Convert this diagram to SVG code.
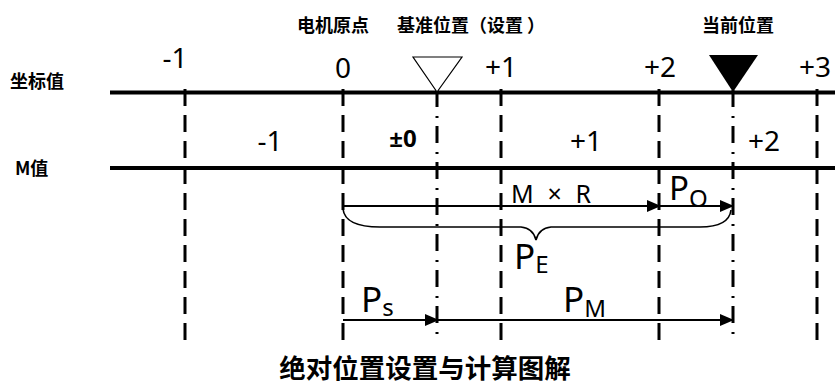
<svg xmlns="http://www.w3.org/2000/svg" width="835" height="385" viewBox="0 0 835 385">
<style>
.axis{stroke:#000;stroke-width:4;fill:none}
.dash{stroke:#000;stroke-width:3;stroke-dasharray:17 9;fill:none}
.dotdash{stroke:#000;stroke-width:3;stroke-dasharray:17 9 2 8;fill:none}
.arr{stroke:#000;stroke-width:2;fill:none}
.brace{stroke:#000;stroke-width:1.6;fill:none}
.num{font-family:"Noto Sans","Open Sans","DejaVu Sans",sans-serif;font-size:28px;fill:#000}
.bold0{font-family:"Noto Sans","Open Sans",sans-serif;font-weight:700;font-size:24px;fill:#000}
.mr{font-family:"Noto Sans","Open Sans",sans-serif;font-size:25px;fill:#000}
.cn{font-family:"Noto Sans CJK SC","Noto Sans",sans-serif;font-weight:700;font-size:18px;fill:#000}
.title{font-family:"Noto Sans CJK SC","Noto Sans",sans-serif;font-weight:700;font-size:26.5px;fill:#000}
.p{font-family:"Noto Sans","Open Sans",sans-serif;font-size:35px;fill:#000}
.p2{font-family:"Noto Sans","Open Sans",sans-serif;font-size:33px;fill:#000}
.sub{font-size:24px}
</style>
<defs>
<marker id="ah" markerUnits="userSpaceOnUse" markerWidth="14" markerHeight="12" refX="13" refY="6" orient="auto">
<path d="M0,0 L14,6 L0,12 Z" fill="#000"/>
</marker>
</defs>
<rect width="835" height="385" fill="#fff"/>

<g id="axes">
<line class="axis" x1="110" y1="92.5" x2="835" y2="92.5"/>
<line class="axis" x1="110" y1="168" x2="835" y2="168"/>
</g>

<g id="gridlines">
<line class="dash" x1="185" y1="89" x2="185" y2="342"/>
<line class="dash" x1="343" y1="89" x2="343" y2="342"/>
<line class="dotdash" x1="437" y1="90" x2="437" y2="342"/>
<line class="dash" x1="501" y1="89" x2="501" y2="342"/>
<line class="dash" x1="659" y1="89" x2="659" y2="342"/>
<line class="dotdash" x1="733" y1="90" x2="733" y2="342"/>
<line class="dash" x1="817" y1="89" x2="817" y2="342"/>
</g>

<g id="markers">
<polygon id="ref-mark" points="413,57 462,57 437,92" fill="#fff" stroke="#000" stroke-width="1.2"/>
<polygon id="cur-mark" points="709,55 758,55 733,92" fill="#000"/>
</g>

<g id="labels-top">
<text class="cn" x="297" y="32">电机原点</text>
<text class="cn" x="397" y="32">基准位置（设置 ）</text>
<text class="cn" x="702" y="32">当前位置</text>
<text class="cn" x="10" y="88">坐标值</text>
<text class="cn" x="15" y="175">M值</text>
</g>

<g id="coord-values" class="num" text-anchor="middle">
<text x="175" y="68">-1</text>
<text x="343" y="78">0</text>
<text x="501" y="77">+1</text>
<text x="660" y="77">+2</text>
<text x="815" y="77">+3</text>
</g>

<g id="m-values" class="num" text-anchor="middle">
<text x="270" y="151">-1</text>
<text class="bold0" x="403" y="147">±0</text>
<text x="586" y="151">+1</text>
<text x="764" y="151">+2</text>
</g>

<g id="connectors">
<line class="arr" x1="343" y1="206" x2="660" y2="206" marker-end="url(#ah)"/>
<line class="arr" x1="660" y1="206" x2="733" y2="206" marker-end="url(#ah)"/>
<line class="arr" x1="343" y1="320" x2="438" y2="320" marker-end="url(#ah)"/>
<line class="arr" x1="438" y1="320" x2="733" y2="320" marker-end="url(#ah)"/>
<path class="brace" d="M343,209 Q345,227 380,227 L521,227 Q533,228 536,240 Q539,228 551,227 L700,227 Q729,227 731,210"/>
</g>

<g id="conn-labels">
<text class="mr" x="511" y="203" textLength="80" lengthAdjust="spacing">M × R</text>
<text class="p2" x="669" y="200">P<tspan class="sub" dy="7">O</tspan></text>
<text class="p" x="514" y="269">P<tspan class="sub" dy="4">E</tspan></text>
<text class="p" x="361" y="312">P<tspan class="sub" dy="4">s</tspan></text>
<text class="p" x="563" y="312">P<tspan class="sub" dy="5">M</tspan></text>
</g>

<text id="title" class="title" x="425" y="378" text-anchor="middle">绝对位置设置与计算图解</text>
</svg>
